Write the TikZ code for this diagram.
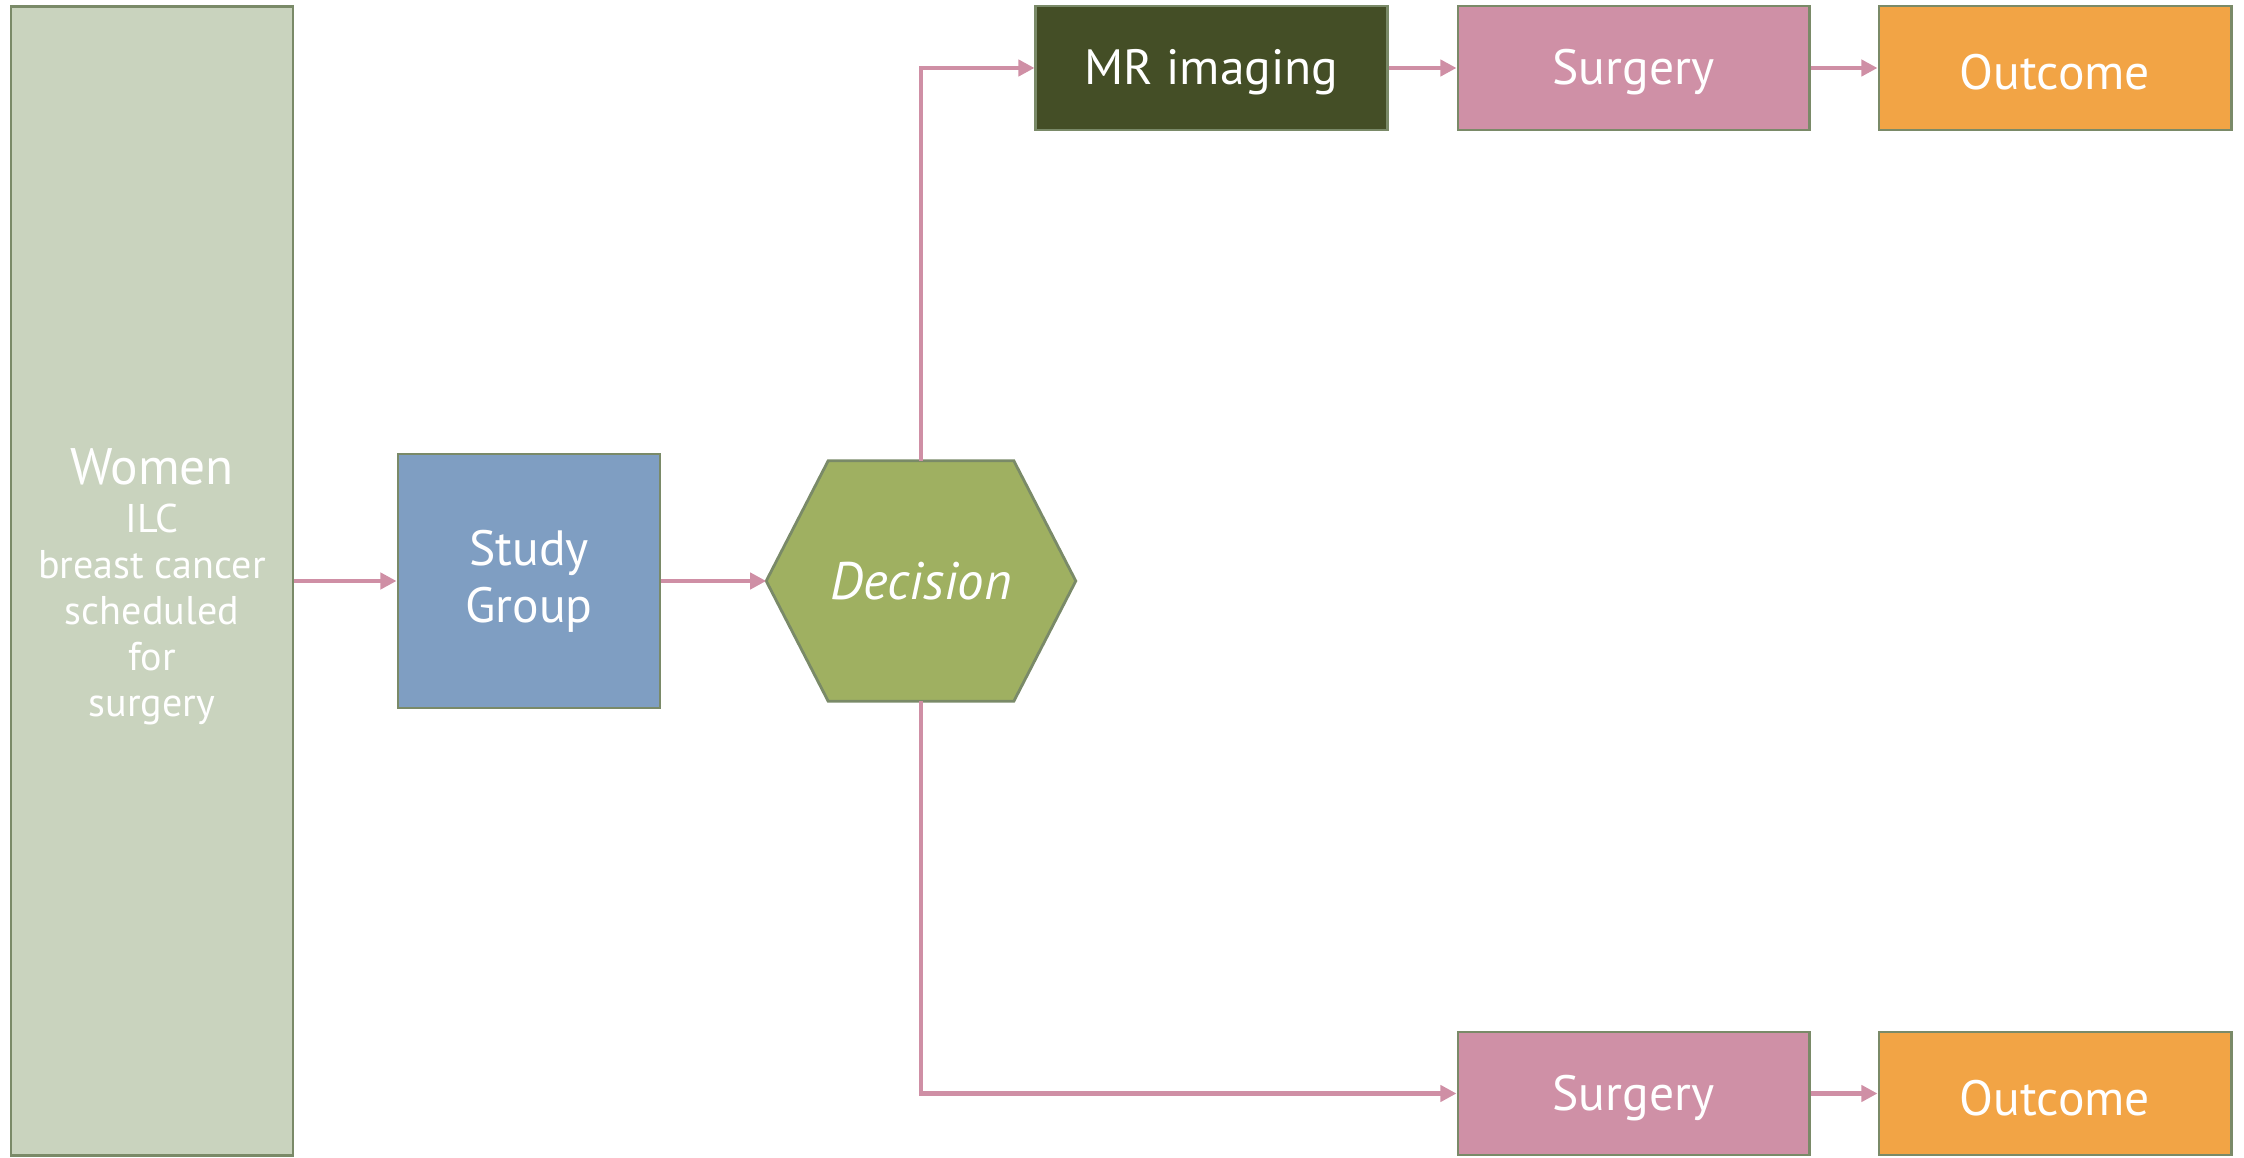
\documentclass[tikz,border=0pt]{standalone}
\usepackage{fontspec}
\setmainfont{PT Sans}
\usetikzlibrary{arrows.meta,calc}
\definecolor{edgegreen}{HTML}{7A8A68}
\definecolor{cohortfill}{HTML}{C9D3BE}
\definecolor{studyfill}{HTML}{7F9EC2}
\definecolor{decisionfill}{HTML}{9FB061}
\definecolor{mrfill}{HTML}{444E26}
\definecolor{surgeryfill}{HTML}{CF90A6}
\definecolor{outcomefill}{HTML}{F2A445}
\definecolor{flowpink}{HTML}{CF8FA5}
\begin{document}
\begin{tikzpicture}[x=0.01cm,y=-0.01cm,
  box/.style={draw=edgegreen, line width=0.8pt, inner sep=0pt, align=center,
    text=white, font=\fontsize{14.1}{15}\selectfont},
  caption/.style={yshift=-1.2pt},
  flow/.style={draw=flowpink, line width=1.3pt,
    -{Triangle[length=4.6pt,width=4.6pt]}},
]
\useasboundingbox (0,0) rectangle (2244,1158);

% cohort column
\node[box, fill=cohortfill, minimum width=2.82cm, minimum height=11.49cm] (women) at (152,581) {};
\node[box, draw=none, font=\fontsize{11.4}{13.1}\selectfont] (womentext) at (152,587)
  {{\fontsize{14.6}{15}\selectfont Women}\\[0.6pt]
   ILC\\ breast cancer\\ scheduled\\ for\\ surgery};

% study group
\node[box, fill=studyfill, minimum width=2.62cm, minimum height=2.54cm] (study) at (529,581)
  {Study\\[1.3pt] Group};

% decision hexagon: invisible frame node, outline drawn from its anchors
\node[inner sep=0pt, minimum width=3.08cm, minimum height=2.39cm] (dec) at (921,581) {};
\draw[draw=edgegreen, line width=0.8pt, fill=decisionfill]
  (dec.west) -- ($(dec.north west)+(62,0)$) -- ($(dec.north east)+(-62,0)$) --
  (dec.east) -- ($(dec.south east)+(-62,0)$) -- ($(dec.south west)+(62,0)$) -- cycle;
\node[text=white, font=\fontsize{15}{16}\selectfont\itshape] at (dec.center) {Decision};

% upper branch
\node[box, fill=mrfill, minimum width=3.51cm, minimum height=1.24cm] (mr) at (1211.5,68) {};
\node[box, fill=surgeryfill, minimum width=3.51cm, minimum height=1.24cm] (surg1) at (1633.5,68) {};
\node[box, fill=outcomefill, minimum width=3.52cm, minimum height=1.24cm] (out1) at (2055,68) {};

% lower branch
\node[box, fill=surgeryfill, minimum width=3.51cm, minimum height=1.23cm] (surg2) at (1633.5,1093.5) {};
\node[box, fill=outcomefill, minimum width=3.52cm, minimum height=1.23cm] (out2) at (2055,1093.5) {};

% box captions, set a little below the geometric centre
\foreach \n/\t in {mr/MR imaging, surg1/Surgery, out1/Outcome, surg2/Surgery, out2/Outcome}
  \node[box, draw=none, caption] at (\n.center) {\t};

% connectors
\draw[flow] (women.east |- study.west) -- (study.west);
\draw[flow] (study.east) -- (dec.west);
\draw[flow] (dec.north) |- (mr.west);
\draw[flow] (mr.east) -- (surg1.west);
\draw[flow] (surg1.east) -- (out1.west);
\draw[flow] (dec.south) |- (surg2.west);
\draw[flow] (surg2.east) -- (out2.west);
\end{tikzpicture}
\end{document}
